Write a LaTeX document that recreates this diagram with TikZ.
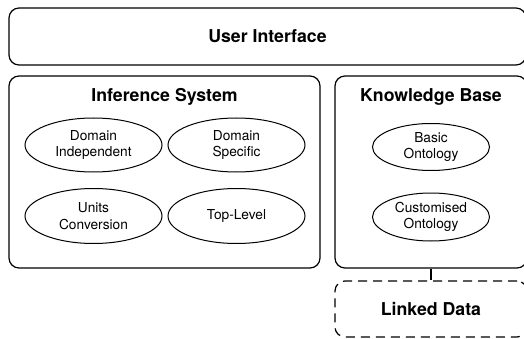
\documentclass[tikz,border=0pt]{standalone}
\usepackage{fontspec}
\setmainfont{TeX Gyre Heros}
\usetikzlibrary{shapes.geometric}
\begin{document}
\begin{tikzpicture}[x=1pt,y=-1pt,
  box/.style={draw, line width=1.2pt, rounded corners=10pt, inner sep=0pt},
  dbox/.style={box, dash pattern=on 9pt off 6pt},
  title/.style={font=\fontsize{17.7}{20}\selectfont\bfseries, inner sep=0pt},
  oval/.style={draw, ellipse, line width=1pt, inner sep=0pt, align=center,
    font=\fontsize{13.7}{16.5}\selectfont},
  link/.style={line width=1.2pt}]
\useasboundingbox (0,0) rectangle (524,339);
\node[box, minimum width=517pt, minimum height=57pt, title] (ui) at (267.5,36.5) {User Interface};
\node[box, minimum width=311pt, minimum height=192pt] (is) at (164.5,172) {};
\node[title] (ist) at (164.5,97) {Inference System};
\node[box, minimum width=192pt, minimum height=192pt] (kb) at (431,172) {};
\node[title] (kbt) at (431,97) {Knowledge Base};
\node[dbox, minimum width=192pt, minimum height=56pt, title] (ld) at (431,309) {Linked Data};
\node[oval, minimum width=137pt, minimum height=54pt] (di) at (93.5,145) {Domain\\Independent};
\node[oval, minimum width=137pt, minimum height=54pt] (ds) at (236.5,145) {Domain\\Specific};
\node[oval, minimum width=137pt, minimum height=55pt] (uc) at (93.5,216) {Units\\Conversion};
\node[oval, minimum width=137pt, minimum height=55pt] (tl) at (236.5,216) {Top-Level};
\node[oval, minimum width=117pt, minimum height=47pt] (bo) at (431,147) {Basic\\Ontology};
\node[oval, minimum width=117pt, minimum height=48pt] (co) at (431,217) {Customised\\Ontology};
\draw[link] (kb.south) -- (ld.north);
\end{tikzpicture}
\end{document}
